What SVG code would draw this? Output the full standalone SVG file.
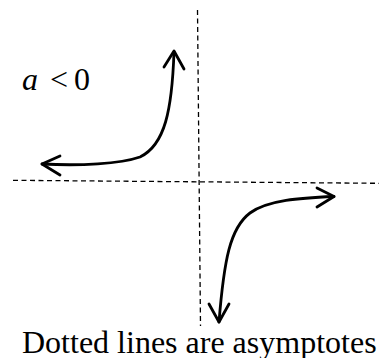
<svg xmlns="http://www.w3.org/2000/svg" width="379" height="358" viewBox="0 0 379 358">
<style>
.asym{fill:none;stroke:#000;stroke-width:1.3;stroke-dasharray:5 3.5}
.curve{fill:none;stroke:#000;stroke-width:2.8;stroke-linecap:round;stroke-linejoin:round}
.lbl{font-family:"Liberation Serif","Times New Roman",serif;fill:#000}
</style>
<rect width="379" height="358" fill="#fff"/>
<g id="connectors">
<line class="asym" x1="13" y1="180.3" x2="379" y2="183.3"/>
<line class="asym" x1="197.5" y1="10" x2="200.5" y2="326"/>
</g>
<g id="branch-upper-left">
<path class="curve" d="M42,164 C80,166 120,164 140,157 C165,145 172,110 174,52"/>
<path class="curve" d="M60,156 L42,164 L60,175"/>
<path class="curve" d="M164,67 L174,51 L184,69"/>
</g>
<g id="branch-lower-right">
<path class="curve" d="M334,196.5 C300,198 268,200 250,213 C230,228 224,260 219,322"/>
<path class="curve" d="M317,188 L334,196.5 L317,207"/>
<path class="curve" d="M209,304 L219,322 L229,304"/>
</g>
<g id="label-a">
<text class="lbl" y="90" font-size="32"><tspan x="22" font-style="italic">a</tspan><tspan x="50">&lt;</tspan><tspan x="74">0</tspan></text>
</g>
<g id="caption">
<text class="lbl" x="22" y="352.5" font-size="32">Dotted lines are asymptotes</text>
</g>
</svg>
